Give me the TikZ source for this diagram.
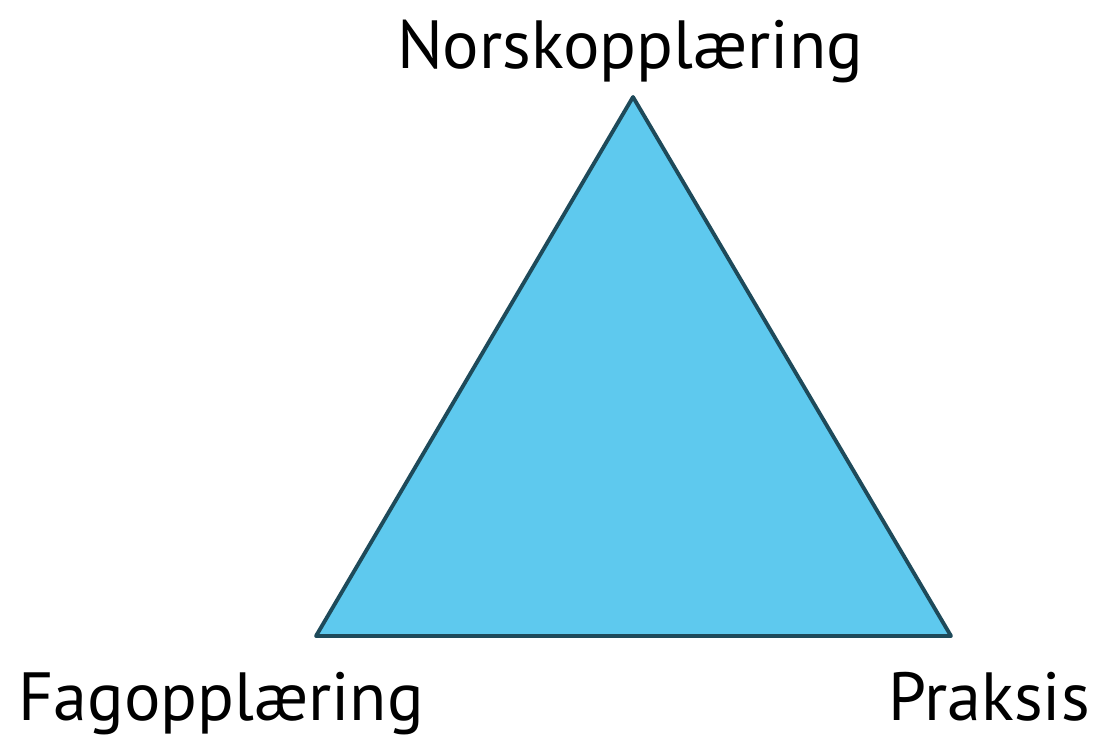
\documentclass[tikz,border=0pt]{standalone}
\usepackage{fontspec}
\setmainfont{PT Sans}
\usepackage{tikz}
\usetikzlibrary{positioning}
\definecolor{trifill}{HTML}{5EC9EE}
\definecolor{triline}{HTML}{1E4A5A}

\begin{document}
\begin{tikzpicture}[x=0.02cm, y=-0.02cm,
	corner/.style={inner sep=0pt, font=\fontsize{38.8}{46}\selectfont}]
	\useasboundingbox (0,0) rectangle (1096,738);
	\coordinate (top) at (633,97);
	\coordinate (left) at (316,636);
	\coordinate (right) at (951,636);
	\draw[triline, fill=trifill, line width=2.2pt, line join=round] (top) -- (left) -- (right) -- cycle;
	\node[corner, anchor=base] (norsk) at (630,68) {Norskopplæring};
	\node[corner, anchor=base west] (fag) at (18,720) {Fagopplæring};
	\node[corner, anchor=base east] (praksis) at (1090,720) {Praksis};
\end{tikzpicture}
\end{document}
